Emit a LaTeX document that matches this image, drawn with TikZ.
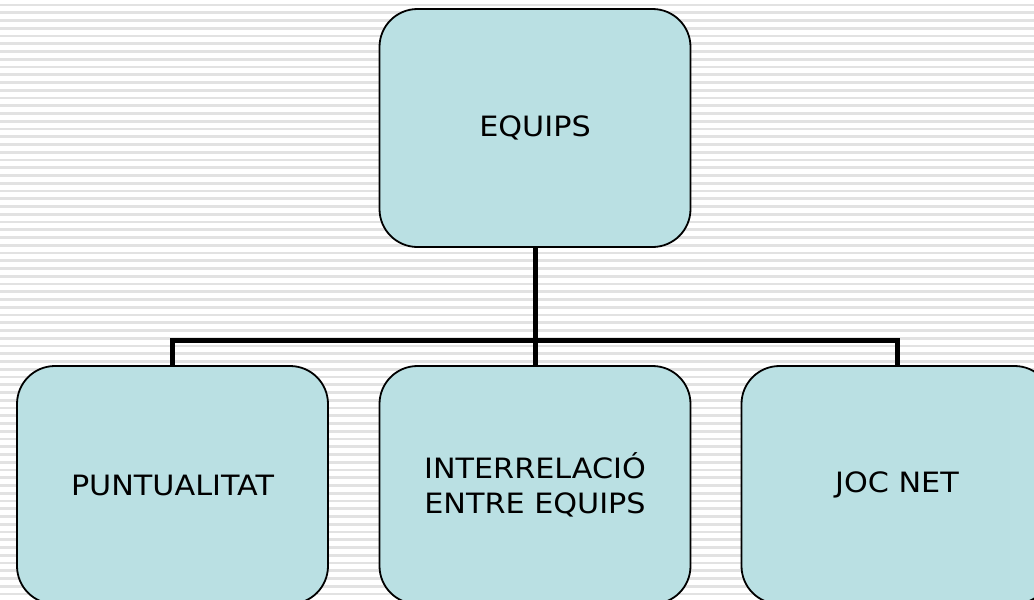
\documentclass[tikz,border=0pt]{standalone}
\usepackage{fontspec}
\setmainfont{DejaVu Sans}[FakeStretch=1.08]
\begin{document}
\begin{tikzpicture}[x=1pt,y=-1pt,
  box/.style={draw=black,line width=1.8pt,fill=boxfill,rounded corners=38pt,
    minimum width=311pt,minimum height=238pt,inner sep=0pt,align=center,
    font=\fontsize{28}{35}\selectfont,text=black},
  conn/.style={draw=black,line width=5pt}]
\definecolor{boxfill}{RGB}{186,224,227}
\definecolor{stripe}{RGB}{226,226,226}
\useasboundingbox (0,0) rectangle (1034,600);
\fill[white] (0,0) rectangle (1034,600);
\begin{scope}
\clip (0,0) rectangle (1034,600);
\foreach \i in {0,...,77}{
  \draw[stripe,line width=2.6pt] (0,{5+7.75*\i}) -- (1034,{5+7.75*\i});
}
\node[box] (top) at (535,128) {EQUIPS};
\node[box] (left) at (172.5,485) {PUNTUALITAT};
\node[box] (mid) at (535,485) {INTERRELACIÓ\\ENTRE EQUIPS};
\node[box] (right) at (897,485) {JOC NET};
\coordinate (bar) at (535,340);
\draw[conn] (top.south) -- (mid.north);
\draw[conn] (left.north) |- (bar) -| (right.north);
\end{scope}
\end{tikzpicture}
\end{document}
